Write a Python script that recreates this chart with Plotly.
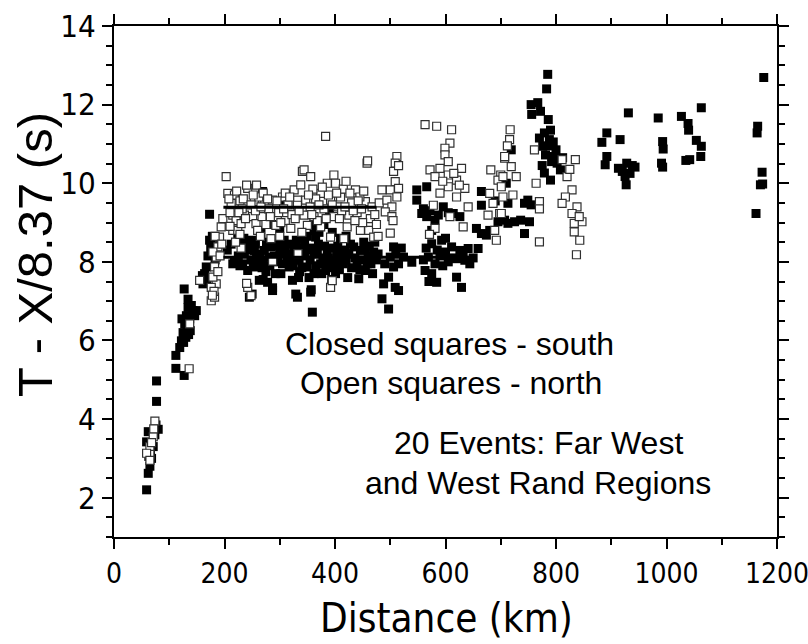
import plotly.graph_objects as go

# ---- data (distance km, T - X/8.37 s) ----
south_points = [
    # near-source group
    (59, 2.2), (62, 2.62), (65, 2.8), (68, 3.0), (59, 3.42), (62, 3.68), (71, 3.3), (80, 3.74),
    (77, 4.45), (77, 4.97), (66, 3.15), (74, 3.6), (63, 3.05), (76, 3.85),
    # steep rise 110-150 km
    (112, 5.62), (112, 5.29), (127, 5.11), (119, 5.82), (122, 5.99), (125, 6.2), (128, 6.42),
    (131, 6.63), (134, 6.84), (143, 6.76), (146, 6.63), (134, 7.05), (127, 7.31), (130, 6.08),
    (132, 6.29), (137, 6.55), (140, 6.89), (123, 6.55), (126, 5.95), (138, 6.25), (149, 6.76), (135, 6.15),
    # 150-200 km
    (161, 7.44), (164, 7.7), (167, 7.87), (173, 8.55), (173, 9.21), (170, 8.15), (175, 8.35),
    (160, 7.65), (168, 7.55), (178, 8.65), (183, 8.05), (186, 8.5),
    # 200-480 km band
    (236, 8.21), (233, 7.95), (242, 7.78), (254, 8.29), (266, 8.72), (272, 8.29), (281, 8.12),
    (284, 8.38), (257, 7.87), (245, 7.1), (263, 7.53), (278, 7.48), (287, 7.27), (230, 8.55),
    (224, 8.63), (320, 8.12), (326, 8.29), (317, 7.87), (323, 7.53), (332, 7.1), (269, 9.79),
    (326, 8.42), (335, 8.04), (350, 7.87), (362, 8.21), (362, 7.7), (374, 7.95), (386, 8.29),
    (392, 8.04), (383, 7.78), (401, 7.7), (410, 8.12), (425, 8.21), (434, 8.38), (446, 8.29),
    (440, 7.95), (455, 7.78), (443, 7.57), (356, 7.23), (359, 6.72), (362, 8.8), (365, 8.63),
    (350, 8.65), (225, 8.15), (240, 8.45), (248, 8.05), (250, 8.55), (258, 8.15), (262, 8.0),
    (270, 8.05), (275, 7.75), (290, 8.15), (295, 8.45), (300, 8.25), (305, 7.95), (310, 8.35),
    (313, 8.05), (330, 8.55), (338, 8.35), (345, 8.15), (355, 8.05), (368, 8.25), (378, 8.1),
    (395, 8.35), (405, 8.4), (415, 7.95), (420, 8.05), (430, 7.85), (450, 8.05), (460, 8.15),
    (470, 8.25), (465, 7.95), (475, 8.05), (250, 7.18), (270, 7.55), (287, 7.34), (329, 7.18),
    (357, 7.29), (394, 7.55), (334, 7.6), (310, 9.48), (362, 9.01), (390, 9.27), (371, 8.75),
    (280, 9.1), (300, 8.85), (395, 8.75), (410, 8.6), (380, 8.95), (420, 8.65), (285, 8.95),
    (340, 7.85), (345, 8.45), (385, 7.95), (400, 8.0), (455, 8.35), (215, 7.95), (292, 7.7),
    (205, 8.3), (212, 8.45), (218, 8.0), (228, 7.9), (235, 8.6), (244, 8.3), (252, 7.95),
    (256, 8.45), (264, 8.2), (268, 7.85), (276, 8.5), (282, 7.9), (289, 8.4), (296, 8.0),
    (302, 7.7), (308, 8.55), (315, 8.2), (318, 8.45), (324, 7.9), (328, 8.1), (336, 7.75),
    (342, 8.6), (348, 8.3), (353, 7.6), (358, 8.35), (366, 7.9), (370, 8.45), (376, 7.7),
    (381, 8.4), (388, 8.1), (397, 7.85), (403, 8.2), (408, 7.8), (418, 8.3), (423, 7.6),
    (428, 8.45), (436, 8.1), (445, 7.8), (452, 8.5), (458, 7.95), (462, 8.4), (468, 7.7),
    (472, 8.5), (478, 8.2),
    # 480-540 km
    (506, 8.38), (500, 8.12), (506, 7.87), (497, 7.61), (488, 7.44), (509, 7.35), (485, 7.06),
    (497, 6.8), (515, 7.27), (515, 7.95), (524, 8.12), (539, 7.99), (490, 7.95), (510, 8.25), (520, 8.35),
    # 560-650 km lower band
    (575, 8.46), (593, 8.55), (611, 8.38), (626, 8.29), (641, 8.34), (635, 8.04), (620, 8.08),
    (644, 7.95), (581, 7.95), (569, 8.12), (563, 7.78), (575, 7.7), (584, 7.48), (620, 7.61),
    (629, 7.35), (560, 8.05), (590, 8.15), (600, 8.25), (605, 8.0), (650, 8.1), (570, 7.5), (600, 8.6),
    (585, 8.3), (612, 8.1), (632, 8.15), (565, 8.35), (595, 7.9),
    # 550-630 km middle band
    (548, 9.83), (548, 9.57), (566, 9.91), (557, 9.23), (566, 9.15), (581, 9.06), (587, 9.19),
    (596, 9.4), (614, 9.23), (626, 9.15), (575, 8.8), (560, 9.35), (572, 9.3), (605, 9.25),
    # 650-760 km
    (665, 9.79), (665, 9.44), (656, 8.85), (665, 8.72), (674, 8.68), (659, 8.34), (707, 9.06),
    (695, 9.02), (713, 8.98), (725, 9.02), (736, 9.06), (752, 9.02), (743, 8.72), (710, 10.0),
    (713, 9.49), (743, 9.49), (749, 9.57), (719, 10.85), (680, 8.8), (690, 9.55), (700, 9.15), (755, 9.45),
    # peak near 790 km
    (785, 12.77), (783, 12.4), (755, 12.0), (767, 12.05), (756, 11.75), (772, 11.83), (786, 11.62),
    (779, 11.28), (788, 11.11), (776, 10.94), (781, 10.72), (797, 10.68), (802, 10.51), (808, 10.34),
    (779, 10.26), (790, 10.08), (795, 11.05), (785, 10.95), (800, 10.85), (792, 10.55), (775, 10.45),
    (790, 11.35), (770, 11.15), (812, 10.65),
    # 880-950 km
    (931, 11.79), (892, 11.28), (883, 11.04), (916, 11.11), (892, 10.68), (889, 10.47), (913, 10.38),
    (928, 10.51), (943, 10.41), (934, 10.25), (925, 10.17), (927, 9.96), (938, 10.45), (920, 10.3),
    # 985-1065 km
    (985, 11.66), (993, 11.06), (994, 10.87), (991, 10.51), (993, 10.41), (1027, 11.7), (1039, 11.52),
    (1040, 11.35), (1063, 11.92), (1054, 11.09), (1063, 10.94), (1062, 10.68), (1035, 10.58), (1042, 10.6),
    # 1160-1180 km
    (1176, 12.69), (1165, 11.45), (1164, 11.28), (1173, 10.28), (1174, 9.98), (1170, 9.96), (1162, 9.23),
]

north_points = [
    # near-source group
    (74, 3.95), (71, 3.55), (65, 3.3), (65, 3.1), (59, 3.13), (65, 2.95), (68, 3.4), (72, 3.75),
    # steep rise
    (136, 5.28), (137, 6.42),
    # 150-200 km
    (155, 7.53), (176, 7.01), (182, 7.1), (185, 7.44), (176, 7.35), (179, 7.61), (182, 7.87),
    (185, 8.12), (188, 8.38), (191, 8.63), (179, 8.25), (194, 8.89), (197, 9.1), (181, 7.25),
    (188, 7.75), (192, 8.15), (183, 8.65), (195, 8.45), (178, 7.15),
    # 200-480 km band
    (203, 10.17), (206, 9.74), (212, 9.49), (218, 9.7), (215, 9.19), (221, 9.05), (215, 8.8),
    (224, 8.8), (242, 9.87), (254, 9.53), (245, 9.27), (251, 9.15), (236, 9.19), (230, 8.97),
    (257, 8.97), (260, 8.8), (242, 7.35), (248, 7.14), (287, 9.57), (290, 9.27), (293, 8.93),
    (284, 8.59), (272, 9.45), (326, 9.83), (332, 9.57), (341, 10.3), (383, 11.19), (458, 10.51),
    (344, 10.34), (356, 10.17), (338, 9.96), (386, 10.0), (398, 10.21), (401, 10.0), (437, 9.83),
    (374, 9.74), (410, 9.65), (347, 9.57), (392, 9.57), (455, 9.53), (332, 9.44), (362, 9.15),
    (344, 9.19), (398, 9.15), (425, 9.19), (464, 9.1), (461, 8.8), (470, 8.63), (446, 8.8),
    (416, 8.59), (392, 8.63), (374, 8.89), (350, 8.93), (422, 8.89), (392, 7.35), (395, 7.52),
    (333, 8.21), (210, 9.25), (228, 9.55), (232, 9.35), (262, 9.65), (268, 9.15), (275, 8.95),
    (280, 9.35), (298, 9.25), (305, 9.65), (310, 9.05), (315, 9.45), (320, 8.85), (355, 9.4),
    (365, 9.6), (380, 9.35), (405, 9.4), (415, 9.85), (430, 9.5), (440, 9.25), (450, 9.0),
    (475, 8.95), (478, 8.65), (240, 7.45), (287, 8.02), (258, 9.95), (240, 9.95), (265, 8.65),
    (300, 8.65), (340, 8.75), (270, 9.75), (310, 9.75), (360, 9.85), (420, 10.05), (445, 9.65),
    (230, 8.35), (252, 9.7), (322, 9.2), (368, 9.05), (388, 9.7), (412, 9.3), (436, 9.05),
    (208, 9.6), (222, 9.8), (226, 9.25), (234, 9.6), (238, 9.1), (248, 9.45), (256, 9.3),
    (266, 9.4), (278, 9.6), (283, 9.15), (295, 9.55), (302, 9.0), (307, 9.35), (318, 9.65),
    (328, 9.1), (335, 9.3), (352, 9.7), (358, 9.2), (371, 9.45), (377, 9.9), (384, 9.1),
    (395, 9.45), (403, 9.75), (408, 9.1), (418, 9.4), (427, 9.75), (433, 9.3), (442, 9.55),
    (448, 9.35), (452, 9.8), (467, 9.4), (472, 9.2), (480, 9.5), (210, 8.9), (220, 8.5), (228, 8.7),
    # 480-520 km
    (512, 10.68), (509, 10.51), (506, 10.3), (509, 10.04), (500, 9.83), (485, 9.83), (494, 9.57),
    (503, 9.4), (491, 9.27), (503, 9.15), (500, 8.73), (515, 10.45), (515, 9.87), (459, 10.57),
    (505, 9.05), (512, 9.65),
    # 560-640 km
    (563, 11.49), (584, 11.45), (611, 11.36), (608, 11.02), (599, 10.89), (599, 10.72), (605, 10.55),
    (572, 10.34), (590, 10.38), (629, 10.38), (581, 10.17), (605, 10.21), (620, 10.08), (635, 9.87),
    (605, 9.91), (620, 9.65), (578, 9.44), (641, 9.4), (608, 9.15), (632, 8.89), (581, 8.85),
    (571, 8.7), (595, 10.05), (615, 10.25), (590, 9.75), (625, 9.95),
    # 675-730 km
    (682, 10.34), (700, 10.21), (707, 10.64), (695, 10.08), (680, 9.74), (686, 9.49), (677, 9.19),
    (698, 9.23), (689, 8.8), (692, 8.55), (717, 11.36), (716, 11.11), (707, 10.68), (719, 10.42),
    (728, 10.17), (704, 10.17), (701, 9.91), (722, 9.7), (704, 9.65), (701, 9.23), (712, 10.95),
    # 760-850 km
    (761, 10.85), (764, 10.0), (770, 9.53), (770, 9.35), (770, 8.51), (811, 10.6), (835, 10.6),
    (820, 10.17), (829, 9.83), (817, 9.65), (811, 9.49), (838, 9.4), (829, 9.23), (847, 9.02),
    (833, 8.98), (833, 8.76), (843, 8.55), (837, 8.18), (842, 9.15), (825, 10.35),
]

# fitted reference lines
fit_upper_x = [198, 475]
fit_upper_y = [9.39, 9.39]
fit_lower_x = [198, 650]
fit_lower_y = [8.12, 8.12]

x_ticks = [0, 200, 400, 600, 800, 1000, 1200]
y_ticks = [2, 4, 6, 8, 10, 12, 14]

notes = [
    ("Closed squares - south", 608, 5.9),
    ("Open squares - north", 610, 4.92),
    ("20 Events: Far West", 768, 3.4),
    ("and West Rand Regions", 768, 2.38),
]

sx = [p[0] for p in south_points]
sy = [p[1] for p in south_points]
nx = [p[0] for p in north_points]
ny = [p[1] for p in north_points]

NARROW = "DejaVu Sans Condensed, Liberation Sans Narrow, Arial Narrow, Liberation Sans, sans-serif"
REG = "Liberation Sans, Arial, sans-serif"

fig = go.Figure()
fig.add_trace(go.Scatter(x=sx, y=sy, mode="markers",
                         marker=dict(symbol="square", size=9, color="black",
                                     line=dict(width=0)),
                         showlegend=False, hoverinfo="skip"))
fig.add_trace(go.Scatter(x=nx, y=ny, mode="markers",
                         marker=dict(symbol="square", size=8, color="white",
                                     line=dict(width=1.2, color="#303030")),
                         showlegend=False, hoverinfo="skip"))
fig.add_trace(go.Scatter(x=fit_upper_x, y=fit_upper_y, mode="lines",
                         line=dict(color="black", width=3), showlegend=False, hoverinfo="skip"))
fig.add_trace(go.Scatter(x=fit_lower_x, y=fit_lower_y, mode="lines",
                         line=dict(color="black", width=3), showlegend=False, hoverinfo="skip"))

for txt, xv, yv in notes:
    fig.add_annotation(x=xv, y=yv, xref="x", yref="y", text=txt, showarrow=False,
                       xanchor="center", yanchor="middle",
                       font=dict(family=REG, size=32, color="black"))

fig.add_annotation(x=0.502, y=-0.158, xref="paper", yref="paper", text="Distance (km)",
                   showarrow=False, xanchor="center", yanchor="middle",
                   font=dict(family=NARROW, size=40, color="black"))
fig.add_annotation(x=-0.119, y=0.552, xref="paper", yref="paper", text="T - X/8.37 (s)",
                   showarrow=False, xanchor="center", yanchor="middle", textangle=-90,
                   font=dict(family=REG, size=49, color="black"))

axis_common = dict(showgrid=False, zeroline=False, showline=True, linecolor="black",
                   linewidth=2, mirror="allticks", ticks="outside", ticklen=10,
                   tickwidth=1.8, tickcolor="black", automargin=False)

fig.update_xaxes(range=[0, 1200], tickvals=x_ticks, ticktext=[str(v) for v in x_ticks],
                 tickfont=dict(family=NARROW, size=28, color="black"),
                 ticklabeloverflow="allow",
                 minor=dict(dtick=100, tick0=0, ticks="outside", ticklen=6, tickwidth=1.5,
                            tickcolor="black", showgrid=False),
                 **axis_common)
fig.update_yaxes(range=[1, 14], tickvals=y_ticks, ticktext=[str(v) for v in y_ticks],
                 tickfont=dict(family=NARROW, size=31, color="black"),
                 minor=dict(dtick=0.5, tick0=0, ticks="outside", ticklen=6, tickwidth=1.5,
                            tickcolor="black", showgrid=False),
                 **axis_common)

fig.update_layout(width=808, height=644, paper_bgcolor="white", plot_bgcolor="white",
                  margin=dict(l=114, r=31, t=26, b=107), showlegend=False)

fig.write_html("out.html")
